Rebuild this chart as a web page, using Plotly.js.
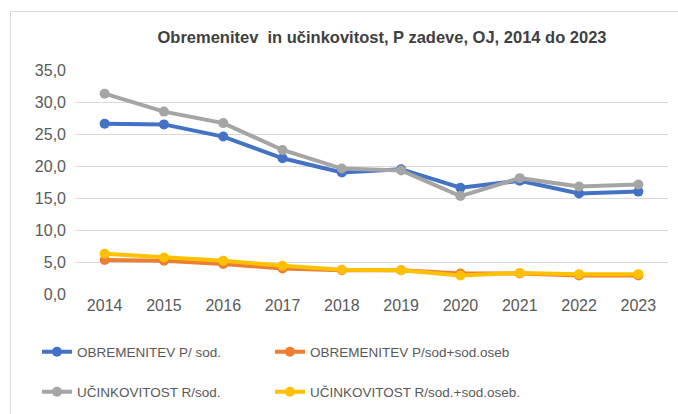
<!DOCTYPE html>
<html>
<head>
<meta charset="utf-8">
<script src="https://cdn.plot.ly/plotly-3.0.1.min.js"></script>
<style>
html,body{margin:0;padding:0;background:#fff;}
#wrap{position:relative;width:678px;height:414px;overflow:hidden;}
#chart{width:678px;height:414px;}
#frame{position:absolute;left:10px;top:11px;width:700px;height:420px;border-top:1px solid #d9d9d9;border-left:1px solid #d9d9d9;pointer-events:none;}
</style>
</head>
<body>
<div id="wrap"><div id="chart"></div><div id="frame"></div></div>
<script>
var years = ['2014','2015','2016','2017','2018','2019','2020','2021','2022','2023'];
var obremenitevSod = [26.6, 26.5, 24.6, 21.2, 19.0, 19.5, 16.6, 17.7, 15.7, 16.0];
var obremenitevSodOseb = [5.3, 5.2, 4.7, 4.0, 3.7, 3.7, 3.2, 3.2, 2.9, 2.9];
var ucinkovitostSod = [31.3, 28.5, 26.7, 22.5, 19.6, 19.3, 15.3, 18.1, 16.8, 17.1];
var ucinkovitostSodOseb = [6.3, 5.7, 5.2, 4.4, 3.8, 3.7, 2.9, 3.3, 3.1, 3.1];
var seriesNames = ['OBREMENITEV P/ sod.', 'OBREMENITEV P/sod+sod.oseb', 'UČINKOVITOST R/sod.', 'UČINKOVITOST R/sod.+sod.oseb.'];
var yTicks = [0, 5, 10, 15, 20, 25, 30, 35];

function tr(y, name, color, leg) {
  return {
    x: years, y: y, name: name, type: 'scatter', mode: 'lines+markers',
    line: {color: color, width: 4},
    marker: {color: color, size: 10},
    legend: leg, hoverinfo: 'x+y'
  };
}
var data = [
  tr(obremenitevSod, seriesNames[0], '#4472C4', 'legend'),
  tr(obremenitevSodOseb, seriesNames[1], '#ED7D31', 'legend2'),
  tr(ucinkovitostSod, seriesNames[2], '#A5A5A5', 'legend3'),
  tr(ucinkovitostSodOseb, seriesNames[3], '#FFC000', 'legend4')
];
var legFont = {family: 'Liberation Sans, Arial, sans-serif', size: 13.5, color: '#595959'};
function leg(xpx, ypx) {
  return {
    orientation: 'h', xref: 'container', yref: 'container',
    x: xpx/678, xanchor: 'left', y: 1 - ypx/414, yanchor: 'middle',
    font: legFont, bgcolor: 'rgba(0,0,0,0)', itemclick: false, itemdoubleclick: false
  };
}
var layout = {
  width: 678, height: 414,
  margin: {l: 75, r: 10, t: 70, b: 120},
  paper_bgcolor: '#fff', plot_bgcolor: '#fff',
  separators: ',.',
  showlegend: true,
  title: {
    text: 'Obremenitev  in učinkovitost, P zadeve, OJ, 2014 do 2023',
    font: {family: 'Liberation Sans, Arial, sans-serif', size: 16.5, color: '#404040', weight: 'bold'},
    x: 382/678, xref: 'container', xanchor: 'center',
    y: 1 - 37/414, yref: 'container', yanchor: 'middle'
  },
  xaxis: {
    type: 'category', range: [-0.5, 9.5],
    showgrid: false, zeroline: false, showline: false, ticks: '',
    tickfont: {family: 'Liberation Sans, Arial, sans-serif', size: 16, color: '#595959'},
    fixedrange: true
  },
  yaxis: {
    range: [0, 35], tickvals: yTicks, tickformat: '.1f',
    showgrid: true, gridcolor: '#d9d9d9', gridwidth: 1,
    zeroline: false, showline: false, ticks: '',
    tickfont: {family: 'Liberation Sans, Arial, sans-serif', size: 16, color: '#595959'},
    ticklabelstandoff: 8,
    fixedrange: true
  },
  legend: leg(37, 352),
  legend2: leg(270, 352),
  legend3: leg(37, 392),
  legend4: leg(270, 392)
};
Plotly.newPlot('chart', data, layout, {displayModeBar: false, staticPlot: true});
</script>
</body>
</html>
